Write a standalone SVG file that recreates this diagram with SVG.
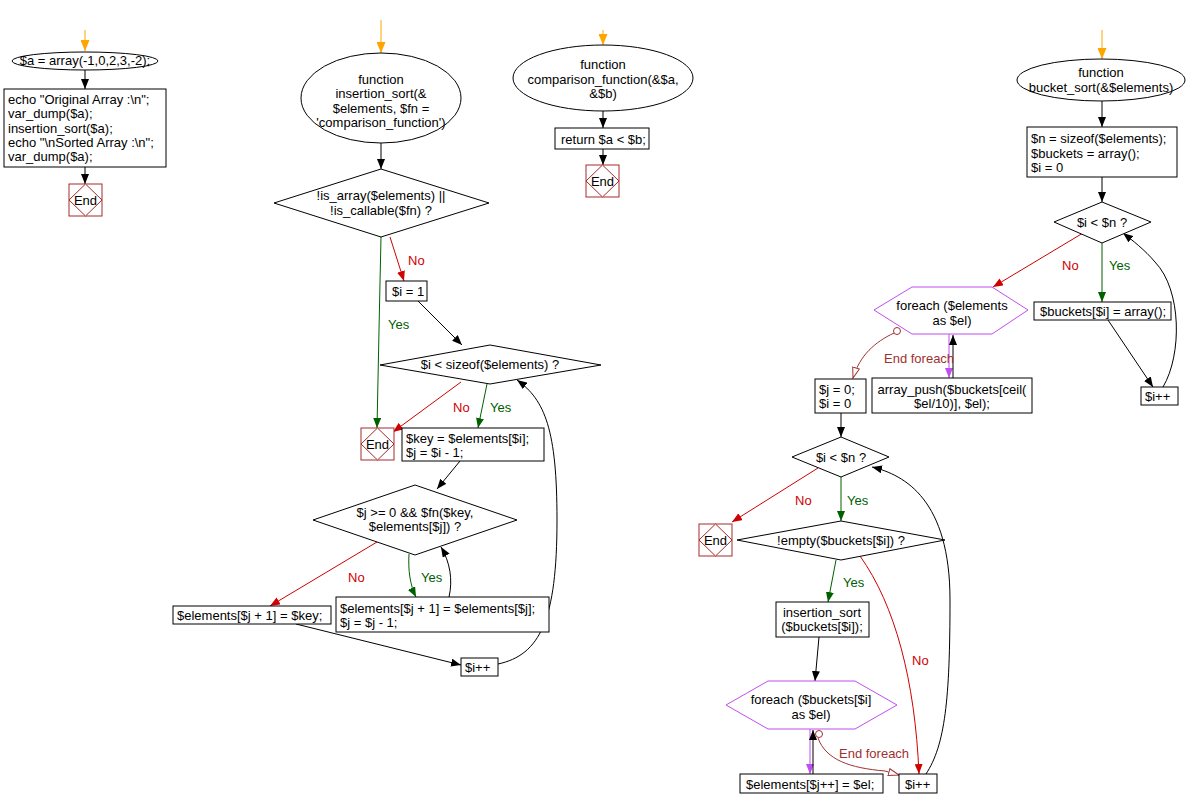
<svg xmlns="http://www.w3.org/2000/svg" width="1189" height="809" viewBox="0 0 1189 809">
<style>
text{font-family:"Liberation Sans",Arial,sans-serif;font-size:13px;fill:#000}
.c{text-anchor:middle}
.box{fill:#fff;stroke:#000;stroke-width:1}
.end{fill:#fff;stroke:#a52a2a;stroke-width:1}
.hex{fill:#fff;stroke:#c04ff0;stroke-width:1}
.e{fill:none;stroke:#000;stroke-width:1}
.k{marker-end:url(#ak)}
.r{stroke:#d00000;marker-end:url(#ar)}
.g{stroke:#006000;marker-end:url(#ag)}
.o{stroke:#ffa500;stroke-width:1;marker-end:url(#ao)}
.p{stroke:#c04ff0;marker-end:url(#ap)}
.ef{stroke:#a03030;marker-end:url(#aef)}
.no{fill:#d00000}
.yes{fill:#006000}
.eft{fill:#a03030}
</style>
<defs>
<marker id="ak" markerWidth="10" markerHeight="8" refX="10" refY="4" orient="auto" markerUnits="userSpaceOnUse"><path d="M0,0 L10,4 L0,8 z" fill="#000"/></marker>
<marker id="ar" markerWidth="10" markerHeight="8" refX="10" refY="4" orient="auto" markerUnits="userSpaceOnUse"><path d="M0,0 L10,4 L0,8 z" fill="#d00000"/></marker>
<marker id="ag" markerWidth="10" markerHeight="8" refX="10" refY="4" orient="auto" markerUnits="userSpaceOnUse"><path d="M0,0 L10,4 L0,8 z" fill="#006000"/></marker>
<marker id="ao" markerWidth="11" markerHeight="9" refX="11" refY="4.5" orient="auto" markerUnits="userSpaceOnUse"><path d="M0,0 L11,4.5 L0,9 z" fill="#ffa500"/></marker>
<marker id="ap" markerWidth="10" markerHeight="8" refX="10" refY="4" orient="auto" markerUnits="userSpaceOnUse"><path d="M0,0 L10,4 L0,8 z" fill="#c04ff0"/></marker>
<marker id="aef" markerWidth="12" markerHeight="8" refX="11" refY="4" orient="auto" markerUnits="userSpaceOnUse"><path d="M0.5,0.5 L11,4 L0.5,7.5 z" fill="#fff" stroke="#a03030"/></marker>
<g id="endshape"><rect x="0" y="0" width="33" height="32" class="end"/><path d="M16.5,0 L33,16 L16.5,32 L0,16 z" class="end"/></g>
</defs>

<g id="connectors">
<!-- main -->
<line x1="85" y1="30" x2="85" y2="51" class="e o"/>
<line x1="85" y1="70" x2="85" y2="89" class="e k"/>
<line x1="85" y1="167" x2="85" y2="184" class="e k"/>
<!-- insertion_sort -->
<line x1="381" y1="20" x2="381" y2="53" class="e o"/>
<line x1="381" y1="143" x2="381" y2="169" class="e k"/>
<path d="M381,237 L379,330 L377,428" class="e g"/>
<path d="M390,237 L404,281" class="e r"/>
<path d="M418,301 L462,345" class="e k"/>
<path d="M461,382 L393,432" class="e r"/>
<path d="M487,384 L478,428" class="e g"/>
<path d="M460,461 L437,489" class="e k"/>
<path d="M377,542 L270,606" class="e r"/>
<path d="M409,554 C408,570 410,585 416,597" class="e g"/>
<path d="M449,597 C453,580 450,562 441,547" class="e k"/>
<path d="M296,624 L461,665" class="e k"/>
<path d="M498,664 C540,655 557,620 557,520 C557,430 545,400 517,380" class="e k"/>
<!-- comparison -->
<line x1="603" y1="30" x2="603" y2="45" class="e o"/>
<line x1="603" y1="111" x2="603" y2="128" class="e k"/>
<line x1="603" y1="149" x2="603" y2="165" class="e k"/>
<!-- bucket_sort -->
<line x1="1102" y1="30" x2="1102" y2="59" class="e o"/>
<line x1="1102" y1="101" x2="1102" y2="127" class="e k"/>
<line x1="1102" y1="177" x2="1102" y2="202" class="e k"/>
<path d="M1083,233 L993,287" class="e r"/>
<line x1="1102" y1="243" x2="1102" y2="302" class="e g"/>
<path d="M1108,320 L1153,387" class="e k"/>
<path d="M1163,387 C1182,355 1182,290 1155,262 C1145,250 1132,240 1123,233" class="e k"/>
<line x1="949" y1="334" x2="949" y2="378" class="e p"/>
<line x1="953" y1="378" x2="953" y2="335" class="e k"/>
<circle cx="897" cy="331" r="3.5" fill="#fff" stroke="#a03030"/>
<path d="M894,333 C875,342 860,355 853,378" class="e ef"/>
<line x1="841" y1="413" x2="841" y2="437" class="e k"/>
<path d="M818,468 L732,522" class="e r"/>
<line x1="841" y1="477" x2="841" y2="521" class="e g"/>
<path d="M836,560 L828,602" class="e g"/>
<path d="M860,556 C895,605 915,680 919,774" class="e r"/>
<path d="M819,637 L815,681" class="e k"/>
<line x1="810" y1="729" x2="810" y2="774" class="e p"/>
<line x1="813" y1="774" x2="813" y2="730" class="e k"/>
<circle cx="819" cy="734" r="3.5" fill="#fff" stroke="#a03030"/>
<path d="M818,738 C826,760 850,768 885,771 L899,775" class="e ef"/>
<path d="M926,774 C945,745 950,700 950,600 C950,500 905,475 872,467" class="e k"/>
</g>

<!-- main program -->
<g id="n_start_a"><ellipse cx="85" cy="61" rx="73" ry="9" class="box"/><text x="85" y="65" class="c">$a = array(-1,0,2,3,-2);</text></g>
<g id="n_main_body"><rect x="4" y="89" width="162" height="78" class="box"/>
<text x="8" y="104">echo "Original Array :\n";</text>
<text x="8" y="118">var_dump($a);</text>
<text x="8" y="133">insertion_sort($a);</text>
<text x="8" y="147">echo "\nSorted Array :\n";</text>
<text x="8" y="161">var_dump($a);</text></g>
<g id="n_main_end" transform="translate(69,184)"><use href="#endshape"/><text x="16.5" y="21" class="c">End</text></g>

<!-- insertion_sort -->
<g id="n_is_func"><ellipse cx="381" cy="98" rx="80" ry="45" class="box"/>
<text x="381" y="84" class="c">function</text>
<text x="381" y="98" class="c">insertion_sort(&amp;</text>
<text x="381" y="113" class="c">$elements, $fn =</text>
<text x="381" y="127" class="c">'comparison_function')</text></g>
<g id="n_is_check"><path d="M381,169 L489,203 L381,237 L274,203 z" class="box"/>
<text x="381" y="200" class="c">!is_array($elements) ||</text>
<text x="381" y="215" class="c">!is_callable($fn) ?</text></g>
<g id="n_i1"><rect x="386" y="281" width="41" height="20" class="box"/><text x="392" y="296">$i = 1</text></g>
<g id="n_is_loop"><path d="M490,345 L601,365 L490,384 L380,365 z" class="box"/><text x="490" y="369" class="c">$i &lt; sizeof($elements) ?</text></g>
<g id="n_is_end" transform="translate(361,428)"><use href="#endshape"/><text x="16.5" y="21" class="c">End</text></g>
<g id="n_key"><rect x="402" y="428" width="142" height="33" class="box"/>
<text x="406" y="443">$key = $elements[$i];</text>
<text x="406" y="457">$j = $i - 1;</text></g>
<g id="n_while"><path d="M415,485 L517,520 L415,555 L313,520 z" class="box"/>
<text x="415" y="517" class="c">$j &gt;= 0 &amp;&amp; $fn($key,</text>
<text x="415" y="531" class="c">$elements[$j]) ?</text></g>
<g id="n_setkey"><rect x="173" y="606" width="158" height="18" class="box"/><text x="177" y="620">$elements[$j + 1] = $key;</text></g>
<g id="n_shift"><rect x="336" y="597" width="213" height="35" class="box"/>
<text x="340" y="613">$elements[$j + 1] = $elements[$j];</text>
<text x="340" y="627">$j = $j - 1;</text></g>
<g id="n_is_inc"><rect x="461" y="658" width="37" height="18" class="box"/><text x="465" y="672">$i++</text></g>

<!-- comparison_function -->
<g id="n_cmp_func"><ellipse cx="603" cy="78" rx="90" ry="33" class="box"/>
<text x="603" y="69" class="c">function</text>
<text x="603" y="84" class="c">comparison_function(&amp;$a,</text>
<text x="603" y="98" class="c">&amp;$b)</text></g>
<g id="n_cmp_ret"><rect x="555" y="128" width="94" height="21" class="box"/><text x="561" y="144">return $a &lt; $b;</text></g>
<g id="n_cmp_end" transform="translate(586,165)"><use href="#endshape"/><text x="16.5" y="21" class="c">End</text></g>

<!-- bucket_sort -->
<g id="n_bs_func"><ellipse cx="1101" cy="80" rx="84" ry="21" class="box"/>
<text x="1101" y="77" class="c">function</text>
<text x="1101" y="92" class="c">bucket_sort(&amp;$elements)</text></g>
<g id="n_bs_init"><rect x="1027" y="127" width="150" height="50" class="box"/>
<text x="1031" y="143">$n = sizeof($elements);</text>
<text x="1031" y="158">$buckets = array();</text>
<text x="1031" y="172">$i = 0</text></g>
<g id="n_bs_loop1"><path d="M1102,202 L1151,222 L1102,243 L1054,222 z" class="box"/><text x="1102" y="227" class="c">$i &lt; $n ?</text></g>
<g id="n_bs_arr"><rect x="1034" y="302" width="137" height="18" class="box"/><text x="1040" y="316">$buckets[$i] = array();</text></g>
<g id="n_bs_inc1"><rect x="1141" y="387" width="37" height="18" class="box"/><text x="1145" y="401">$i++</text></g>
<g id="n_bs_fe1"><path d="M874,310 L912,287 L992,287 L1028,310 L992,334 L912,334 z" class="hex"/>
<text x="952" y="310" class="c">foreach ($elements</text>
<text x="952" y="325" class="c">as $el)</text></g>
<g id="n_bs_push"><rect x="872" y="378" width="160" height="35" class="box"/>
<text x="952" y="394" class="c">array_push($buckets[ceil(</text>
<text x="952" y="408" class="c">$el/10)], $el);</text></g>
<g id="n_bs_j0"><rect x="815" y="379" width="51" height="34" class="box"/>
<text x="819" y="394">$j = 0;</text>
<text x="819" y="408">$i = 0</text></g>
<g id="n_bs_loop2"><path d="M841,437 L889,457 L841,477 L792,457 z" class="box"/><text x="841" y="462" class="c">$i &lt; $n ?</text></g>
<g id="n_bs_end" transform="translate(699,524)"><use href="#endshape"/><text x="16.5" y="21" class="c">End</text></g>
<g id="n_bs_empty"><path d="M841,521 L945,540 L841,560 L737,540 z" class="box"/><text x="841" y="545" class="c">!empty($buckets[$i]) ?</text></g>
<g id="n_bs_isort"><rect x="776" y="602" width="93" height="35" class="box"/>
<text x="822" y="617" class="c">insertion_sort</text>
<text x="822" y="631" class="c">($buckets[$i]);</text></g>
<g id="n_bs_fe2"><path d="M726,705 L768,681 L855,681 L897,705 L855,729 L768,729 z" class="hex"/>
<text x="811" y="704" class="c">foreach ($buckets[$i]</text>
<text x="811" y="719" class="c">as $el)</text></g>
<g id="n_bs_assign"><rect x="740" y="774" width="143" height="19" class="box"/><text x="746" y="789">$elements[$j++] = $el;</text></g>
<g id="n_bs_inc2"><rect x="899" y="774" width="38" height="19" class="box"/><text x="905" y="789">$i++</text></g>

<!-- labels -->
<g id="labels">
<text x="408" y="265" class="no">No</text>
<text x="388" y="329" class="yes">Yes</text>
<text x="453" y="412" class="no">No</text>
<text x="490" y="412" class="yes">Yes</text>
<text x="348" y="582" class="no">No</text>
<text x="421" y="582" class="yes">Yes</text>
<text x="1062" y="270" class="no">No</text>
<text x="1109" y="270" class="yes">Yes</text>
<text x="884" y="363" class="eft">End foreach</text>
<text x="795" y="505" class="no">No</text>
<text x="847" y="505" class="yes">Yes</text>
<text x="843" y="587" class="yes">Yes</text>
<text x="912" y="665" class="no">No</text>
<text x="839" y="758" class="eft">End foreach</text>
</g>
</svg>
